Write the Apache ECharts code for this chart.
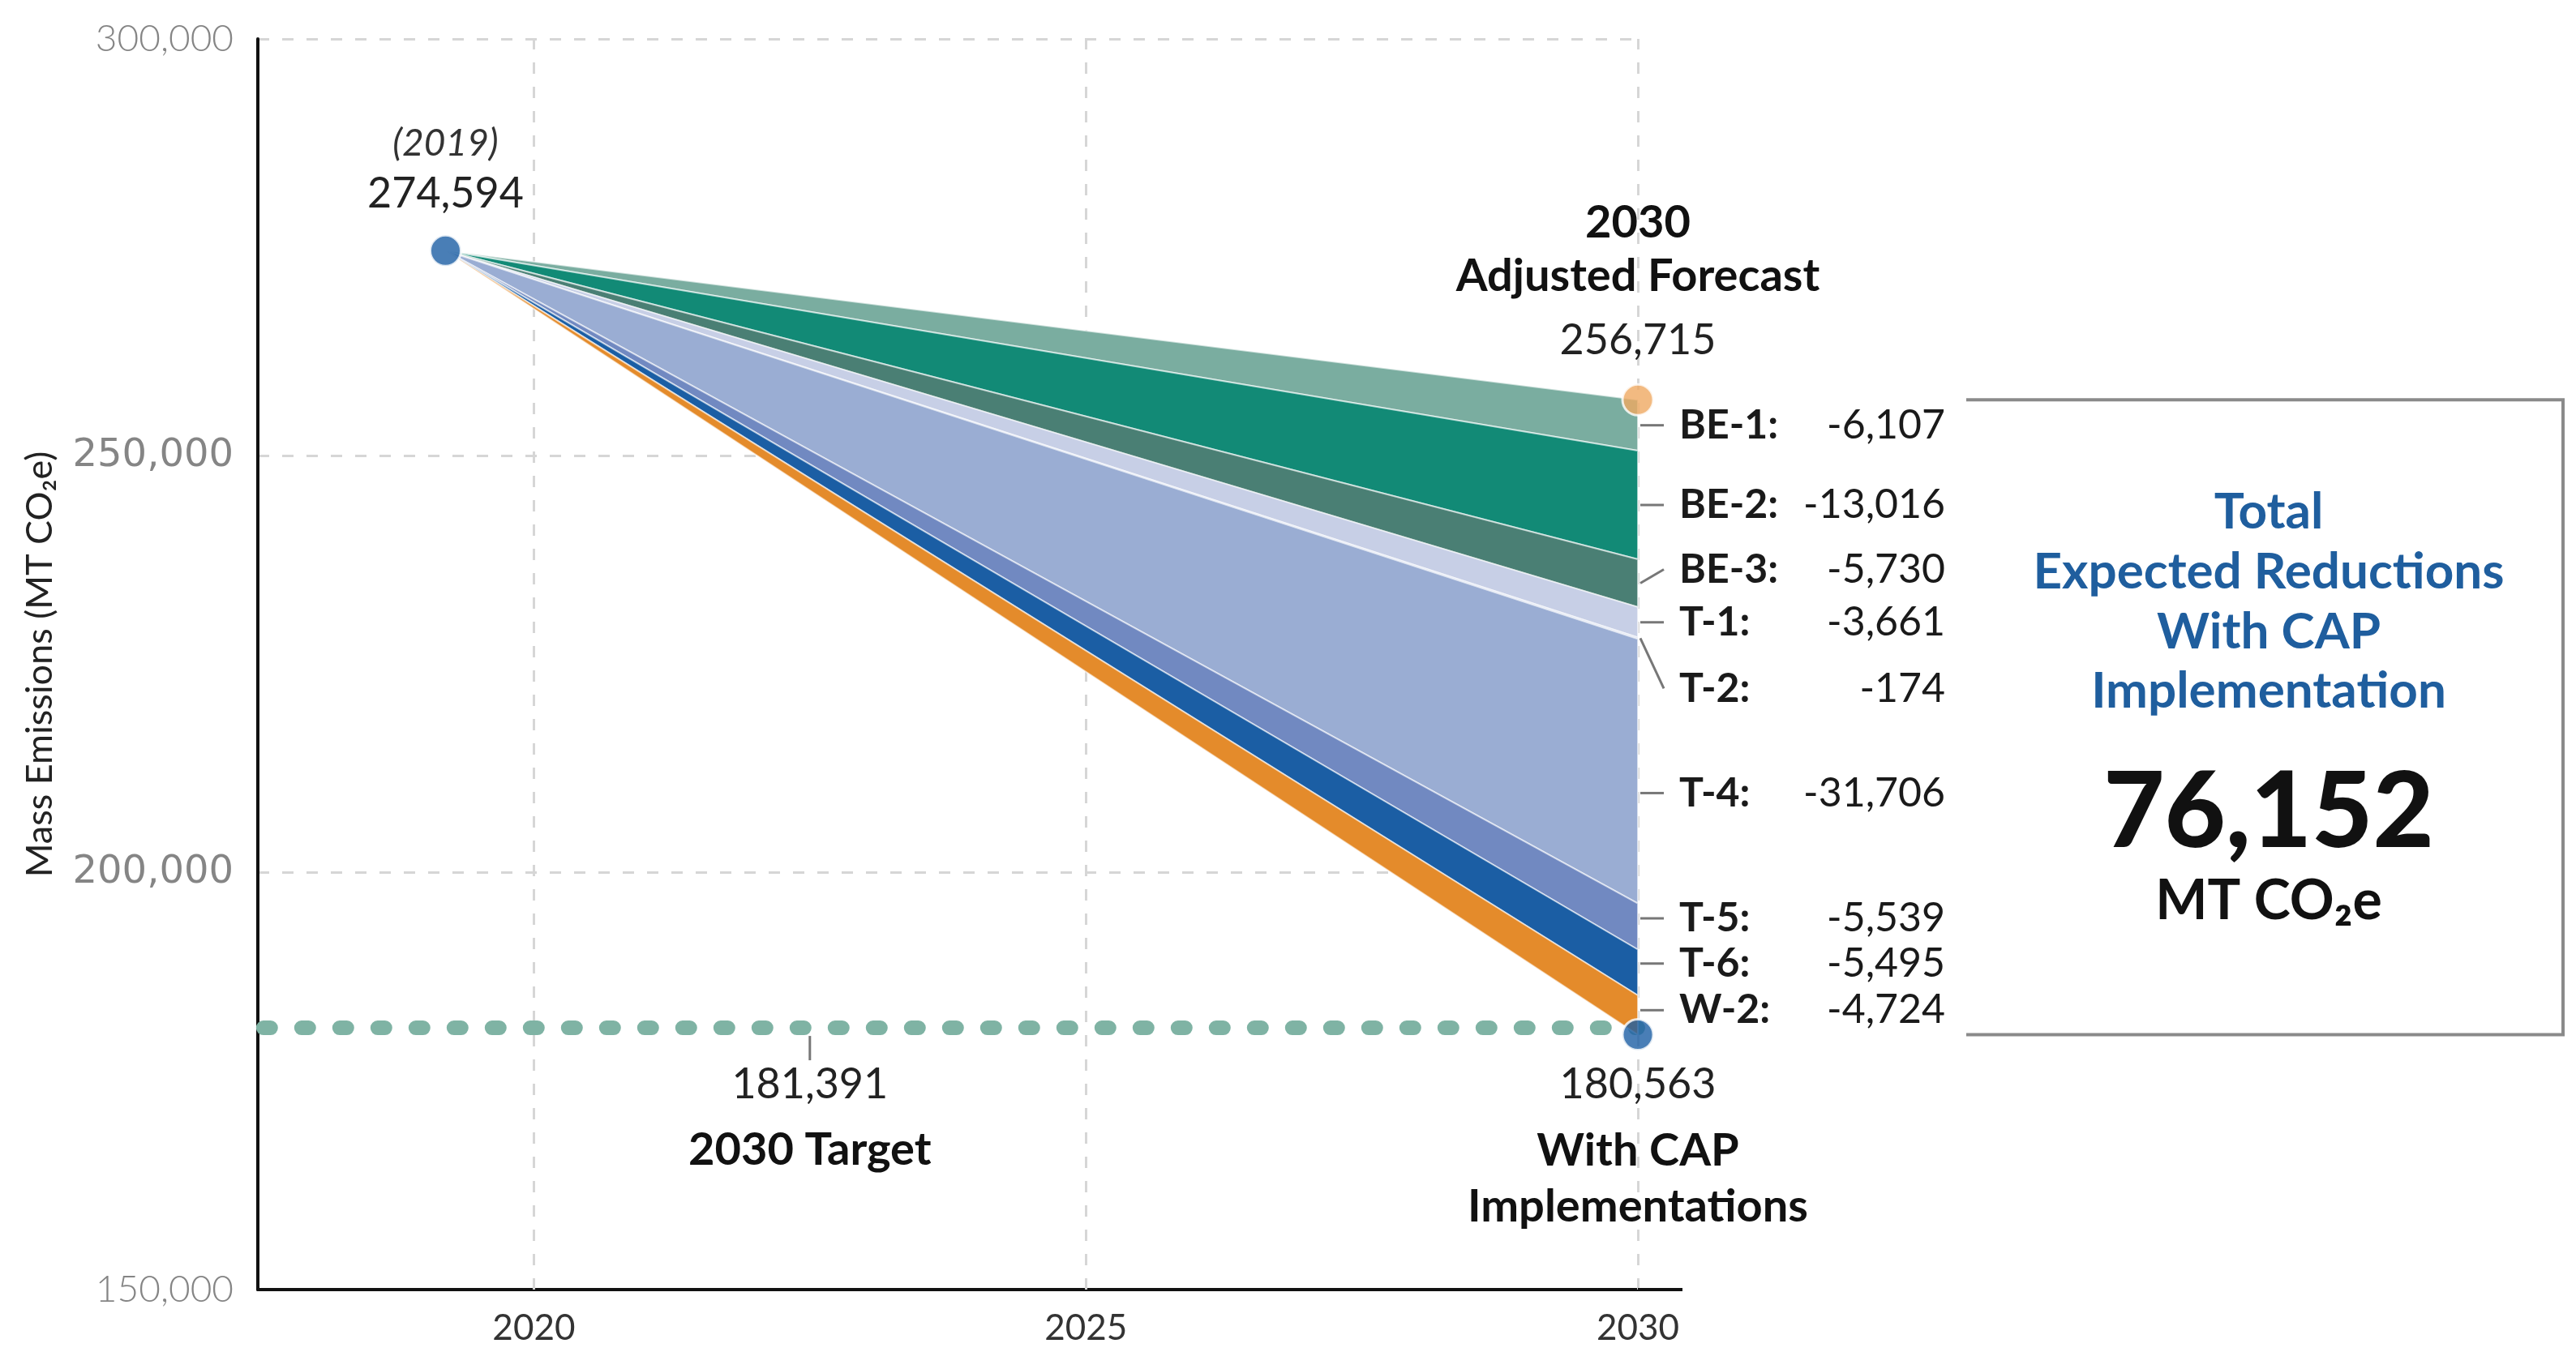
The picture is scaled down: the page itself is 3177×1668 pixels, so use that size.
<!DOCTYPE html>
<html>
<head>
<meta charset="utf-8">
<script src="https://cdn.jsdelivr.net/npm/echarts@6/dist/echarts.min.js"></script>
<style>
html,body{margin:0;padding:0;background:#fff;}
#chart{width:3177px;height:1668px;}
</style>
</head>
<body>
<div id="chart"></div>
<script>
// ---- data ----
const measures   = ['BE-1', 'BE-2', 'BE-3', 'T-1', 'T-2', 'T-4', 'T-5', 'T-6', 'W-2'];
const reductions = [-6107, -13016, -5730, -3661, -174, -31706, -5539, -5495, -4724];
const startYear = 2019.2;          // position of the 2019 point on the time axis
const endYear = 2030;
const baseline2019 = 274594;
const forecast2030 = 256715;
const withCap2030 = 180563;
const target2030 = 181391;
const totalReduction = 76152;
const xTickValues = [2020, 2025, 2030];
const yTickMin = 150000, yTickMax = 300000, yTickStep = 50000;

// ---- styles ----
const bandColors = ['#7aada0', '#128a76', '#4a7f74', '#c7cfe6', '#b6c3e2', '#9aadd3', '#7189c1', '#1b5ea4', '#e48b2b'];
const labelShift = [0, 0, -17, 0, 62, 27, -10, -11, -6];
const leaderFromMid = [0, 0, 1, 0, 1, 0, 0, 0, 0];
const FONT = 'Lato';
const fmt = v => Math.abs(v).toLocaleString('en-US');
const fmtSigned = v => (v < 0 ? '-' : '') + fmt(v);

// band boundaries at 2030, from the forecast down through each reduction
const bandRows = [];
{
  let cur = forecast2030;
  for (let i = 0; i < measures.length; i++) {
    const low = cur + reductions[i];
    bandRows.push([endYear, cur, low, i]);
    cur = low;
  }
}

const chart = echarts.init(document.getElementById('chart'), null, {renderer: 'canvas'});

const series = [];
// vertical dashed grid lines
series.push({
  type: 'line', name: 'grid', z: 1, silent: true, symbol: 'none',
  data: [[endYear, withCap2030]],
  lineStyle: {opacity: 0},
  markLine: {
    z: 1, silent: true, symbol: 'none', label: {show: false},
    lineStyle: {color: '#d6d6d6', width: 3, type: [14, 16]},
    data: xTickValues.map(v => ({xAxis: v}))
  }
});
// dotted target line
series.push({
  type: 'line', name: 'target', z: 2, silent: true, symbol: 'none',
  data: [[2017.55, target2030], [endYear, target2030]],
  lineStyle: {color: '#7fb3a4', width: 18, type: [9, 38], cap: 'round'}
});
// reduction bands: wedges from the 2019 point to each band at 2030
series.push({
  type: 'custom', name: 'bands', z: 3, silent: true, clip: false,
  encode: {x: 0, y: [1, 2]},
  data: bandRows,
  renderItem: function (params, api) {
    const top = api.value(1), low = api.value(2), idx = api.value(3);
    const s = api.coord([startYear, baseline2019]);
    const a = api.coord([api.value(0), top]);
    const b = api.coord([api.value(0), low]);
    return {
      type: 'polygon',
      shape: {points: [s, a, b]},
      style: {fill: bandColors[idx], stroke: 'rgba(255,255,255,0.6)', lineWidth: 2, lineJoin: 'round'}
    };
  }
});
// dots
series.push({
  type: 'scatter', z: 5, clip: false, silent: true, symbolSize: 38,
  data: [
    {value: [startYear, baseline2019], itemStyle: {color: '#1b5ea4'}},
    {value: [endYear, forecast2030], itemStyle: {color: '#efa962'}},
    {value: [endYear, withCap2030], itemStyle: {color: '#1b5ea4'}}
  ],
  itemStyle: {borderColor: '#fff', borderWidth: 3}
});

chart.setOption({
  animation: false,
  backgroundColor: '#ffffff',
  grid: {left: 318, right: 1157, top: 48, bottom: 77},
  xAxis: {
    type: 'value', min: 2017.5, max: endYear,
    axisLine: {show: true, onZero: false, lineStyle: {color: '#111', width: 4}},
    axisTick: {show: false},
    splitLine: {show: false},
    axisLabel: {
      customValues: xTickValues, margin: 26,
      fontFamily: FONT, fontSize: 44, color: '#333',
      formatter: v => String(v)
    }
  },
  yAxis: {
    type: 'value', min: yTickMin, max: yTickMax, interval: yTickStep,
    name: 'Mass Emissions (MT CO₂e)', nameLocation: 'middle', nameGap: 246,
    nameTextStyle: {fontFamily: FONT, fontSize: 45, color: '#222'},
    axisLine: {show: true, lineStyle: {color: '#111', width: 4}},
    axisTick: {show: false},
    splitLine: {show: true, lineStyle: {color: '#d6d6d6', width: 3, type: [14, 16]}},
    axisLabel: {
      margin: 30,
      formatter: v => (v === 250000 || v === 200000) ? '{w|' + fmt(v) + '}' : '{n|' + fmt(v) + '}',
      rich: {
        n: {fontFamily: FONT, fontWeight: 300, fontSize: 46, color: '#858585'},
        w: {fontFamily: 'DejaVu Sans', fontWeight: 'normal', fontSize: 48, color: '#858585'}
      }
    }
  },
  series: series
});

// ---- annotations placed through the chart's own scales ----
const P = (x, y) => chart.convertToPixel({gridIndex: 0}, [x, y]);
const g = [];
function txt(text, x, y, font, fill, align) {
  g.push({type: 'text', x: x, y: y, z: 100, silent: true,
    style: {text: text, font: font, fill: fill || '#222', align: align || 'center', verticalAlign: 'middle'}});
}
function seg(x1, y1, x2, y2, color, w) {
  g.push({type: 'line', z: 100, silent: true, shape: {x1, y1, x2, y2}, style: {stroke: color, lineWidth: w}});
}

const pStart = P(startYear, baseline2019);
const pFore = P(endYear, forecast2030);
const pCap = P(endYear, withCap2030);
const pTarget = P(2022.5, target2030);
const pAxisEnd = P(endYear, yTickMin);

// x-axis line runs a little past 2030
seg(pAxisEnd[0], pAxisEnd[1], pAxisEnd[0] + 55, pAxisEnd[1], '#111', 4);

// 2019 point
txt('(2019)', pStart[0], pStart[1] - 132, 'italic 46px ' + FONT, '#333');
txt(fmt(baseline2019), pStart[0], pStart[1] - 70, '52px ' + FONT, '#222');

// adjusted forecast
txt('2030', pFore[0], pFore[1] - 218, 'bold 56px ' + FONT, '#111');
txt('Adjusted Forecast', pFore[0], pFore[1] - 152, 'bold 56px ' + FONT, '#111');
txt(fmt(forecast2030), pFore[0], pFore[1] - 73, '52px ' + FONT, '#222');

// with CAP
txt(fmt(withCap2030), pCap[0], pCap[1] + 62, '52px ' + FONT, '#222');
txt('With CAP', pCap[0], pCap[1] + 143, 'bold 56px ' + FONT, '#111');
txt('Implementations', pCap[0], pCap[1] + 212, 'bold 56px ' + FONT, '#111');

// target
seg(pTarget[0], pTarget[1] + 10, pTarget[0], pTarget[1] + 40, '#777', 3);
txt(fmt(target2030), pTarget[0], pTarget[1] + 70, '52px ' + FONT, '#222');
txt('2030 Target', pTarget[0], pTarget[1] + 151, 'bold 56px ' + FONT, '#111');

// band labels
bandRows.forEach(function (row, i) {
  const pm = P(endYear, (row[1] + row[2]) / 2);
  const ly = pm[1] + labelShift[i];
  const x0 = pm[0];
  seg(x0 + 3, leaderFromMid[i] ? pm[1] : ly, x0 + 32, ly, '#777', 3);
  txt(measures[i] + ':', x0 + 51, ly, 'bold 50px ' + FONT, '#1a1a1a', 'left');
  txt(fmtSigned(reductions[i]), x0 + 379, ly, '50px ' + FONT, '#1a1a1a', 'right');
});

// total box (open on the left)
const bx0 = 2425, bx1 = 3161;
g.push({type: 'polyline', z: 100, silent: true,
  shape: {points: [[bx0, pFore[1]], [bx1, pFore[1]], [bx1, pCap[1]], [bx0, pCap[1]]]},
  style: {stroke: '#8a8a8a', lineWidth: 4, fill: null}});
const bcx = 2798;
const blue = '#1f5e9e';
txt('Total', bcx, 632, 'bold 62px ' + FONT, blue);
txt('Expected Reductions', bcx, 706, 'bold 62px ' + FONT, blue);
txt('With CAP', bcx, 780, 'bold 62px ' + FONT, blue);
txt('Implementation', bcx, 853, 'bold 62px ' + FONT, blue);
txt(fmt(totalReduction), bcx, 1003, '900 130px ' + FONT, '#111');
txt('MT CO₂e', bcx, 1112, 'bold 68px ' + FONT, '#111');

chart.setOption({graphic: {elements: g}});
</script>
</body>
</html>
